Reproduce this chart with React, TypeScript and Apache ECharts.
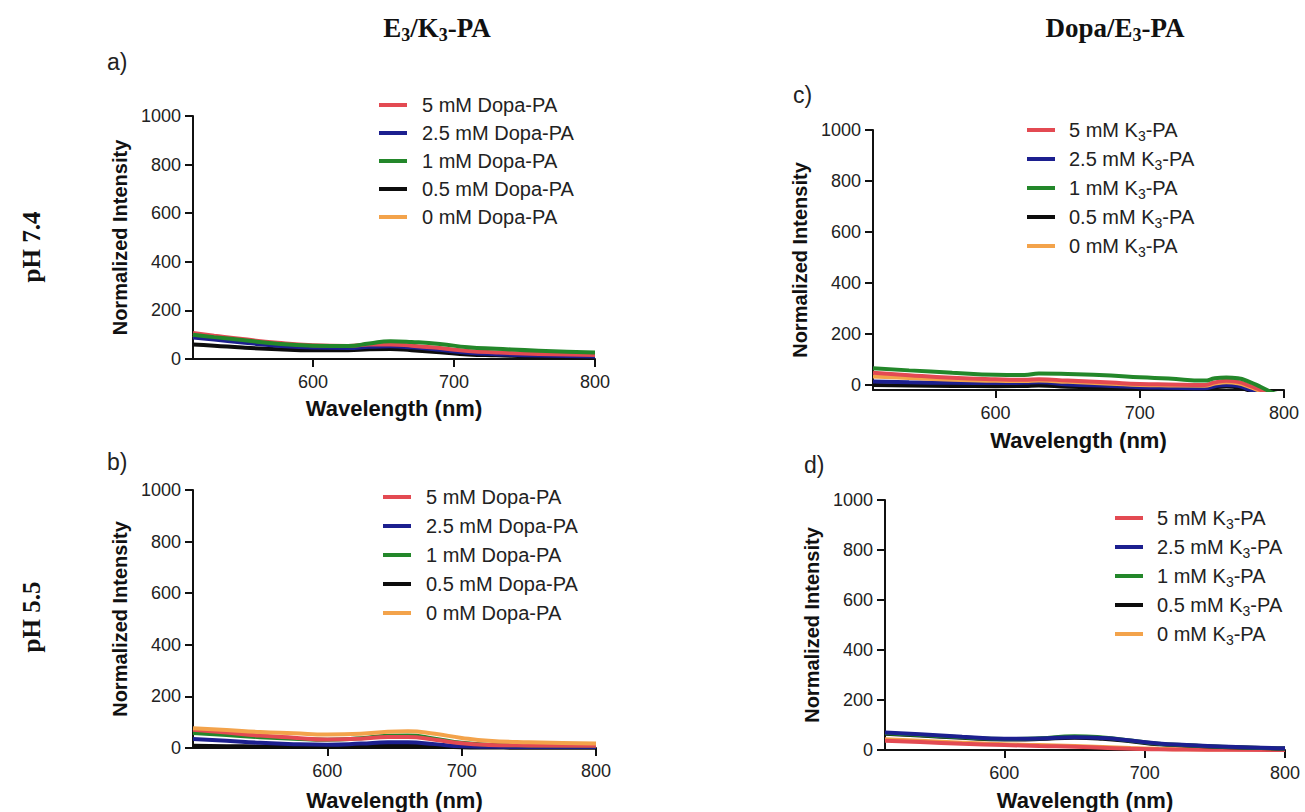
import React, { useEffect, useRef } from "react";
import * as echarts from "echarts";

// ---------- DATA ----------
const NAMES_DOPA = ["5 mM Dopa-PA", "2.5 mM Dopa-PA", "1 mM Dopa-PA", "0.5 mM Dopa-PA", "0 mM Dopa-PA"];
const NAMES_K3 = ["5 mM K3-PA", "2.5 mM K3-PA", "1 mM K3-PA", "0.5 mM K3-PA", "0 mM K3-PA"];
const COLORS = ["#e34a52", "#1c1f8f", "#23872a", "#0d0d0d", "#f3a34b"];

const X_TICKS = [600, 700, 800];
const Y_TICKS = [0, 200, 400, 600, 800, 1000];

// Panel a) E3/K3-PA, pH 7.4
const WL_A = [515, 530, 550, 575, 600, 625, 640, 655, 670, 690, 710, 730, 760, 800];
const A_5 = [107, 96, 82, 67, 57, 54, 60, 60, 55, 45, 33, 27, 21, 16];
const A_2_5 = [88, 80, 68, 55, 47, 45, 50, 52, 48, 38, 26, 20, 14, 10];
const A_1 = [100, 90, 78, 63, 55, 53, 64, 73, 70, 62, 48, 42, 34, 27];
const A_0_5 = [60, 55, 47, 40, 36, 36, 40, 41, 36, 28, 19, 15, 10, 7];
const A_0 = [98, 88, 75, 62, 53, 51, 57, 58, 52, 42, 30, 24, 18, 13];

// Panel b) E3/K3-PA, pH 5.5
const WL_B = [500, 525, 550, 575, 600, 625, 645, 660, 680, 700, 720, 750, 800];
const B_5 = [71, 60, 48, 40, 33, 36, 43, 43, 32, 18, 12, 10, 9];
const B_2_5 = [35, 28, 20, 15, 13, 17, 22, 22, 15, 7, 5, 4, 4];
const B_1 = [58, 50, 42, 36, 32, 38, 47, 48, 36, 20, 13, 10, 9];
const B_0_5 = [9, 7, 6, 5, 4, 6, 9, 9, 6, 3, 2, 1, 1];
const B_0 = [77, 70, 62, 57, 52, 55, 63, 65, 55, 39, 28, 22, 17];

// Panel c) Dopa/E3-PA, pH 7.4
const WL_C = [515, 540, 570, 600, 620, 630, 650, 680, 700, 720, 745, 752, 760, 768, 776, 784, 792, 800];
const C_5 = [48, 38, 28, 22, 20, 22, 17, 9, 4, 2, 0, 10, 16, 12, -3, -20, -35, -40];
const C_2_5 = [13, 10, 8, 7, 8, 10, 2, -4, -9, -11, -13, -5, 0, -3, -18, -30, -40, -45];
const C_1 = [65, 57, 48, 40, 39, 45, 43, 37, 30, 25, 17, 26, 29, 26, 12, -8, -30, -40];
const C_0_5 = [0, -2, -4, -5, -4, -2, -7, -10, -13, -14, -15, -9, -6, -9, -22, -35, -45, -50];
const C_0 = [33, 27, 20, 16, 15, 17, 12, 5, 0, -2, -3, 5, 10, 6, -8, -25, -40, -45];

// Panel d) Dopa/E3-PA, pH 5.5
const WL_D = [515, 540, 570, 600, 625, 650, 670, 690, 710, 730, 760, 800];
const D_5 = [37, 32, 25, 20, 16, 13, 9, 5, 3, 2, 1, 0];
const D_2_5 = [70, 63, 53, 45, 46, 51, 48, 38, 26, 20, 13, 7];
const D_1 = [67, 60, 51, 44, 47, 55, 50, 38, 25, 19, 12, 6];
const D_0_5 = [65, 58, 49, 42, 44, 49, 45, 35, 23, 18, 11, 6];
const D_0 = [43, 37, 29, 23, 20, 16, 12, 8, 5, 3, 2, 3];

// ---------- LAYOUT ----------
const SANS = "Liberation Sans, Arial, sans-serif";
const SERIF = "Liberation Serif, Times New Roman, serif";

type Panel = {
  grid: { left: number; top: number; width: number; height: number };
  xMin: number;
  yMin: number;
  wl: number[];
  vals: number[][];
  names: string[];
  order: number[];
  nameGapX: number;
  legend: { left: number; top: number; pad: number; gap: number; sub: boolean };
};

const PANELS: Panel[] = [
  {
    grid: { left: 193, top: 116, width: 402, height: 243 },
    xMin: 515, yMin: 0, wl: WL_A, vals: [A_5, A_2_5, A_1, A_0_5, A_0],
    names: NAMES_DOPA, order: [4, 3, 1, 0, 2], nameGapX: 38,
    legend: { left: 374, top: 89, pad: 10, gap: 6, sub: false },
  },
  {
    grid: { left: 193, top: 490, width: 403, height: 258 },
    xMin: 500, yMin: 0, wl: WL_B, vals: [B_5, B_2_5, B_1, B_0_5, B_0],
    names: NAMES_DOPA, order: [3, 1, 2, 0, 4], nameGapX: 41,
    legend: { left: 378, top: 481, pad: 10, gap: 7, sub: false },
  },
  {
    grid: { left: 873, top: 130, width: 411, height: 260 },
    xMin: 515, yMin: -20, wl: WL_C, vals: [C_5, C_2_5, C_1, C_0_5, C_0],
    names: NAMES_K3, order: [3, 1, 4, 0, 2], nameGapX: 39,
    legend: { left: 1022, top: 112, pad: 9, gap: 3, sub: true },
  },
  {
    grid: { left: 885, top: 500, width: 400, height: 250 },
    xMin: 515, yMin: 0, wl: WL_D, vals: [D_5, D_2_5, D_1, D_0_5, D_0],
    names: NAMES_K3, order: [4, 0, 3, 2, 1], nameGapX: 39,
    legend: { left: 1110, top: 500, pad: 9, gap: 3, sub: true },
  },
];

const axisLineStyle = { color: "#111", width: 2 };

function buildOption() {
  const grids = PANELS.map((p) => ({ ...p.grid }));
  const xAxes = PANELS.map((p, i) => ({
    type: "value",
    gridIndex: i,
    min: p.xMin,
    max: 800,
    name: "Wavelength (nm)",
    nameLocation: "middle",
    nameGap: p.nameGapX,
    nameTextStyle: { fontFamily: SANS, fontSize: 22, fontWeight: "bold", color: "#111" },
    axisLine: { show: true, onZero: false, lineStyle: axisLineStyle },
    axisTick: { show: true, length: 8, lineStyle: axisLineStyle, customValues: X_TICKS },
    axisLabel: {
      fontFamily: SANS, fontSize: 18, color: "#222", margin: 14, customValues: X_TICKS,
      formatter: (v: number) => String(v),
    },
    splitLine: { show: false },
  }));
  const yAxes = PANELS.map((p, i) => ({
    type: "value",
    gridIndex: i,
    min: p.yMin,
    max: 1000,
    name: "Normalized Intensity",
    nameLocation: "middle",
    nameGap: 63,
    nameTextStyle: { fontFamily: SANS, fontSize: 20, fontWeight: "bold", color: "#111" },
    axisLine: { show: true, onZero: false, lineStyle: axisLineStyle },
    axisTick: { show: true, length: 8, lineStyle: axisLineStyle, customValues: Y_TICKS },
    axisLabel: {
      fontFamily: SANS, fontSize: 18, color: "#222", margin: 12, customValues: Y_TICKS,
      formatter: (v: number) => String(v),
    },
    splitLine: { show: false },
  }));
  const series: any[] = [];
  PANELS.forEach((p, pi) => {
    p.order.forEach((k) => {
      series.push({
        type: "line",
        name: p.names[k],
        xAxisIndex: pi,
        yAxisIndex: pi,
        data: p.wl.map((x, j) => [x, p.vals[k][j]]),
        smooth: 0.5,
        symbol: "none",
        showSymbol: false,
        clip: true,
        lineStyle: { width: 4, color: COLORS[k] },
        itemStyle: { color: COLORS[k] },
        emphasis: { disabled: true },
      });
    });
  });
  const legends = PANELS.map((p) => ({
    show: true,
    orient: "vertical",
    left: p.legend.left,
    top: p.legend.top,
    data: p.names,
    icon: "rect",
    itemWidth: 28,
    itemHeight: 4,
    itemGap: p.legend.gap,
    selectedMode: false,
    formatter: p.legend.sub ? (n: string) => n.replace("K3", "K{sub|3}") : undefined,
    textStyle: {
      fontFamily: SANS,
      fontSize: 20,
      color: "#222",
      lineHeight: p.legend.sub ? 26 : 22,
      padding: [0, 0, 0, p.legend.pad],
      rich: { sub: { fontFamily: SANS, fontSize: 14, lineHeight: 14, verticalAlign: "bottom", color: "#222" } },
    },
  }));

  const headerRich = {
    s: { fontFamily: SERIF, fontSize: 18, fontWeight: "bold", lineHeight: 18, verticalAlign: "bottom", fill: "#111", color: "#111" },
  };
  const graphic = [
    {
      type: "text", x: 437, y: 28,
      style: { text: "E{s|3}/K{s|3}-PA", rich: headerRich, fontFamily: SERIF, fontSize: 27, fontWeight: "bold", fill: "#111", align: "center", verticalAlign: "middle", lineHeight: 32 },
    },
    {
      type: "text", x: 1115, y: 28,
      style: { text: "Dopa/E{s|3}-PA", rich: headerRich, fontFamily: SERIF, fontSize: 27, fontWeight: "bold", fill: "#111", align: "center", verticalAlign: "middle", lineHeight: 32 },
    },
    {
      type: "text", x: 31, y: 247, rotation: Math.PI / 2,
      style: { text: "pH 7.4", fontFamily: SERIF, fontSize: 25, fontWeight: "bold", fill: "#111", align: "center", verticalAlign: "middle" },
    },
    {
      type: "text", x: 31, y: 617, rotation: Math.PI / 2,
      style: { text: "pH 5.5", fontFamily: SERIF, fontSize: 25, fontWeight: "bold", fill: "#111", align: "center", verticalAlign: "middle" },
    },
    { type: "text", x: 107, y: 62, style: { text: "a)", fontFamily: SANS, fontSize: 23, fill: "#222", verticalAlign: "middle" } },
    { type: "text", x: 107, y: 462, style: { text: "b)", fontFamily: SANS, fontSize: 23, fill: "#222", verticalAlign: "middle" } },
    { type: "text", x: 793, y: 95, style: { text: "c)", fontFamily: SANS, fontSize: 23, fill: "#222", verticalAlign: "middle" } },
    { type: "text", x: 804, y: 465, style: { text: "d)", fontFamily: SANS, fontSize: 23, fill: "#222", verticalAlign: "middle" } },
  ];

  return {
    animation: false,
    backgroundColor: "#ffffff",
    grid: grids,
    xAxis: xAxes,
    yAxis: yAxes,
    legend: legends,
    series,
    graphic,
  };
}

export default function App() {
  const ref = useRef<HTMLDivElement>(null);
  useEffect(() => {
    if (!ref.current) return;
    const chart = echarts.init(ref.current, undefined, { renderer: "svg" });
    chart.setOption(buildOption() as any);
    return () => chart.dispose();
  }, []);
  return (
    <div
      ref={ref}
      style={{ position: "absolute", left: 0, top: 0, width: 1305, height: 812, background: "#fff" }}
    />
  );
}
